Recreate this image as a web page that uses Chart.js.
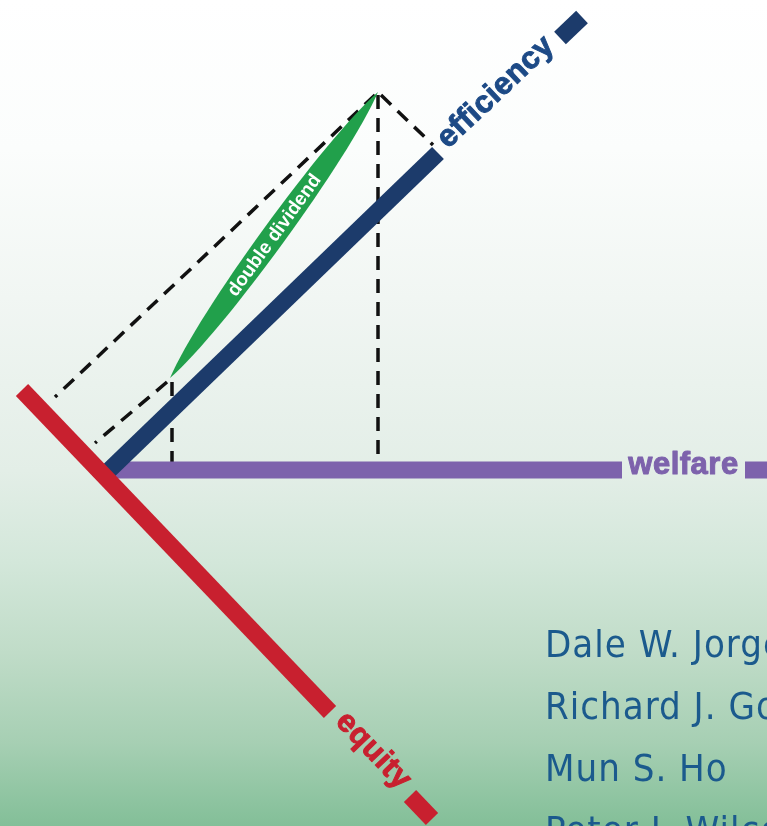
<!DOCTYPE html>
<html>
<head>
<meta charset="utf-8">
<title>Double Dividend</title>
<script src="https://cdn.jsdelivr.net/npm/chart.js@4.4.1/dist/chart.umd.min.js"></script>
<style>
  html, body { margin: 0; padding: 0; background: #fff; }
  canvas { display: block; }
</style>
</head>
<body>
<canvas id="cover" width="767" height="826"></canvas>
<script>
// Diagram units: pixels measured from the point where the three axes meet, y pointing up
const welfareBar = [{x: 2, y: 0}, {x: 512, y: 0}];
const welfareTip = [{x: 635, y: 0}, {x: 670, y: 0}];
const efficiencyBar = [{x: -12, y: -11}, {x: 328, y: 317}];
const efficiencyTip = [{x: 450, y: 432}, {x: 472, y: 453}];
const equityBar = [{x: -88, y: 80}, {x: 220, y: -242}];
const equityTip = [{x: 300, y: -326}, {x: 322, y: -349}];
const dividendLens = [{x: 60, y: 92}, {x: 268, y: 378}];
const guideLines = [
    [{x: 268, y: 375}, {x: 268, y: 8}],
    [{x: 271, y: 375}, {x: 323, y: 325}],
    [{x: 265, y: 375}, {x: -55, y: 73}],
    [{x: 57, y: 88}, {x: -15, y: 27}],
    [{x: 62, y: 88}, {x: 62, y: 8}]
];
const axisNames = ['welfare', 'efficiency', 'equity'];
const lensName = 'double dividend';
const authors = ['Dale W. Jorgenson', 'Richard J. Goettle', 'Mun S. Ho', 'Peter J. Wilcoxen'];

const NAVY = '#1c3b6b';
const RED = '#c8202f';
const PURPLE = '#7d62ac';
const GREEN = '#21a04b';

function bar(data, color, order) {
    return {
        data: data,
        showLine: true,
        borderColor: color,
        backgroundColor: color,
        borderWidth: 17,
        borderCapStyle: 'butt',
        pointRadius: 0,
        order: order
    };
}

const datasets = [
    bar(equityBar, RED, 0),
    bar(equityTip, RED, 0),
    bar(efficiencyBar, NAVY, 1),
    bar(efficiencyTip, NAVY, 1),
    bar(welfareBar, PURPLE, 2),
    bar(welfareTip, PURPLE, 2)
];
guideLines.forEach(line => {
    datasets.push({
        data: line,
        showLine: true,
        borderColor: '#111111',
        borderWidth: 3.5,
        borderDash: [14, 9],
        borderCapStyle: 'butt',
        pointRadius: 0,
        order: 3
    });
});

const coverPainter = {
    id: 'coverPainter',
    beforeDraw(chart) {
        const ctx = chart.ctx;
        const g = ctx.createLinearGradient(0, 0, 0, chart.height);
        g.addColorStop(0, '#ffffff');
        g.addColorStop(0.18, '#fbfdfc');
        g.addColorStop(0.36, '#f1f6f3');
        g.addColorStop(0.57, '#e3eee7');
        g.addColorStop(0.68, '#d3e7da');
        g.addColorStop(0.79, '#c0dcc8');
        g.addColorStop(0.9, '#a6cfb3');
        g.addColorStop(1, '#83bf98');
        ctx.save();
        ctx.fillStyle = g;
        ctx.fillRect(0, 0, chart.width, chart.height);
        ctx.restore();
    },
    afterDatasetsDraw(chart) {
        const ctx = chart.ctx;
        const xs = chart.scales.x, ys = chart.scales.y;
        const px = p => ({x: xs.getPixelForValue(p.x), y: ys.getPixelForValue(p.y)});

        // green lens for the double dividend
        const a = px(dividendLens[0]), b = px(dividendLens[1]);
        const dx = b.x - a.x, dy = b.y - a.y, len = Math.hypot(dx, dy);
        const ux = dx / len, uy = dy / len;
        const nx = -uy, ny = ux;
        const c = 16;
        const q1 = len * 0.2, q3 = len * 0.8;
        ctx.save();
        ctx.beginPath();
        ctx.moveTo(a.x, a.y);
        ctx.bezierCurveTo(a.x + ux * q1 + nx * c, a.y + uy * q1 + ny * c,
                          a.x + ux * q3 + nx * c, a.y + uy * q3 + ny * c, b.x, b.y);
        ctx.bezierCurveTo(a.x + ux * q3 - nx * c, a.y + uy * q3 - ny * c,
                          a.x + ux * q1 - nx * c, a.y + uy * q1 - ny * c, a.x, a.y);
        ctx.closePath();
        ctx.fillStyle = GREEN;
        ctx.fill();
        ctx.translate((a.x + b.x) / 2, (a.y + b.y) / 2);
        ctx.rotate(Math.atan2(dy, dx));
        ctx.font = 'bold 19px "Liberation Sans", Arial, sans-serif';
        ctx.fillStyle = '#ffffff';
        ctx.textAlign = 'center';
        ctx.textBaseline = 'alphabetic';
        ctx.fillText(lensName, 0, 6);
        ctx.restore();

        // axis names sit between each bar and its end block
        function axisLabel(text, barEnd, tipStart, color) {
            const p = px(barEnd), q = px(tipStart);
            ctx.save();
            ctx.translate((p.x + q.x) / 2, (p.y + q.y) / 2);
            ctx.rotate(Math.atan2(q.y - p.y, q.x - p.x));
            ctx.font = 'bold 31px "Liberation Sans", Arial, sans-serif';
            ctx.letterSpacing = '0.5px';
            ctx.fillStyle = color;
            ctx.strokeStyle = color;
            ctx.lineWidth = 1;
            ctx.lineJoin = 'round';
            ctx.textAlign = 'center';
            ctx.textBaseline = 'alphabetic';
            ctx.fillText(text, 0, 4);
            ctx.strokeText(text, 0, 4);
            ctx.restore();
        }
        axisLabel(axisNames[0], welfareBar[1], welfareTip[0], PURPLE);
        axisLabel(axisNames[1], efficiencyBar[1], efficiencyTip[0], '#1d4a86');
        axisLabel(axisNames[2], equityBar[1], equityTip[0], RED);

        // author list, bottom right
        ctx.save();
        ctx.font = '38px "DejaVu Sans Condensed", "Liberation Sans Narrow", sans-serif';
        ctx.letterSpacing = '1px';
        ctx.fillStyle = '#1b5a8d';
        ctx.textAlign = 'left';
        authors.forEach((name, i) => {
            ctx.fillText(name, 545, 657 + i * 62);
        });
        ctx.restore();
    }
};

new Chart(document.getElementById('cover'), {
    type: 'scatter',
    data: { datasets: datasets },
    options: {
        responsive: false,
        animation: false,
        devicePixelRatio: 1,
        layout: { padding: 0 },
        scales: {
            x: { type: 'linear', min: -110, max: 657, display: false },
            y: { type: 'linear', min: -356, max: 470, display: false }
        },
        plugins: {
            legend: { display: false },
            tooltip: { enabled: false }
        },
        elements: { line: { tension: 0 } }
    },
    plugins: [coverPainter]
});
</script>
</body>
</html>
